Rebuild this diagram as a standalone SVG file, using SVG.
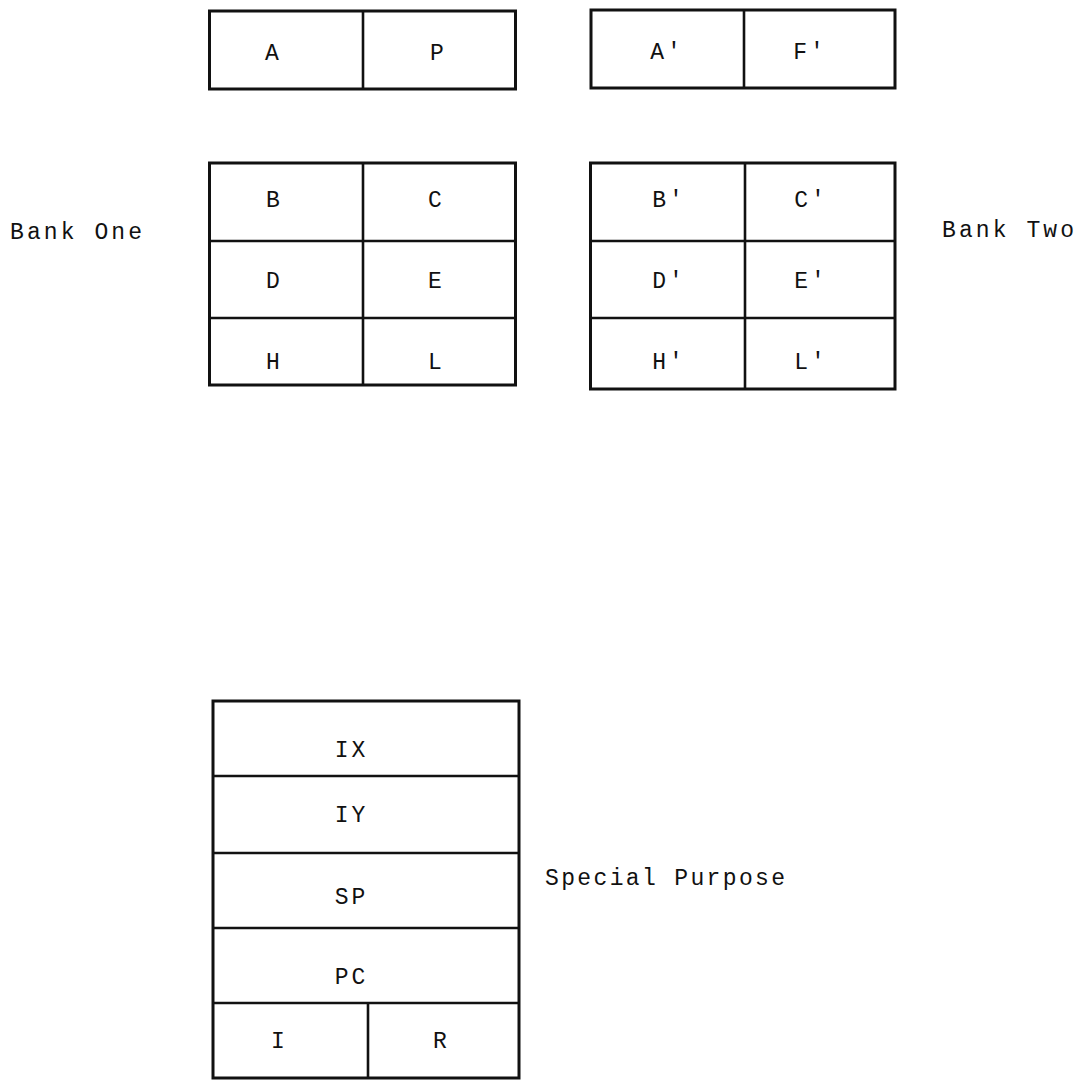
<svg xmlns="http://www.w3.org/2000/svg" width="1083" height="1081" viewBox="0 0 1083 1081">
<style>
  .box { fill: #fff; stroke: #111; stroke-width: 3; }
  .div { stroke: #111; stroke-width: 2.6; fill: none; }
  .t { font-family: "Liberation Mono", "Courier New", monospace; font-size: 23px; fill: #111; text-anchor: middle; letter-spacing: 3px; }
  .lbl { font-family: "Liberation Mono", "Courier New", monospace; font-size: 23px; fill: #111; }
</style>
<rect width="1083" height="1081" fill="#fff"/>

<g id="bank-one-AP">
  <rect class="box" x="209.5" y="11" width="306" height="78"/>
  <line class="div" x1="363" y1="11" x2="363" y2="89"/>
  <text class="t" x="273.5" y="60">A</text>
  <text class="t" x="438.5" y="60">P</text>
</g>

<g id="bank-two-AF">
  <rect class="box" x="591" y="10" width="304" height="78"/>
  <line class="div" x1="744" y1="10" x2="744" y2="88"/>
  <text class="t" x="667" y="59">A'</text>
  <text class="t" x="810" y="59">F'</text>
</g>

<g id="bank-one-regs">
  <rect class="box" x="209.5" y="163" width="306" height="222"/>
  <line class="div" x1="363" y1="163" x2="363" y2="385"/>
  <line class="div" x1="209.5" y1="241" x2="515.5" y2="241"/>
  <line class="div" x1="209.5" y1="318" x2="515.5" y2="318"/>
  <text class="t" x="274.5" y="207">B</text>
  <text class="t" x="436.5" y="207">C</text>
  <text class="t" x="274.5" y="288">D</text>
  <text class="t" x="436.5" y="288">E</text>
  <text class="t" x="274.5" y="369">H</text>
  <text class="t" x="436.5" y="369">L</text>
</g>

<g id="bank-two-regs">
  <rect class="box" x="590.5" y="163" width="304.5" height="226"/>
  <line class="div" x1="745" y1="163" x2="745" y2="389"/>
  <line class="div" x1="590.5" y1="241" x2="895" y2="241"/>
  <line class="div" x1="590.5" y1="318" x2="895" y2="318"/>
  <text class="t" x="669" y="207">B'</text>
  <text class="t" x="811" y="207">C'</text>
  <text class="t" x="669" y="288">D'</text>
  <text class="t" x="811" y="288">E'</text>
  <text class="t" x="669" y="369">H'</text>
  <text class="t" x="811" y="369">L'</text>
</g>

<g id="special-purpose">
  <rect class="box" x="213" y="701" width="306" height="377"/>
  <line class="div" x1="213" y1="776" x2="519" y2="776"/>
  <line class="div" x1="213" y1="853" x2="519" y2="853"/>
  <line class="div" x1="213" y1="928" x2="519" y2="928"/>
  <line class="div" x1="213" y1="1003" x2="519" y2="1003"/>
  <line class="div" x1="368" y1="1003" x2="368" y2="1078"/>
  <text class="t" x="351.5" y="757">IX</text>
  <text class="t" x="351.5" y="822">IY</text>
  <text class="t" x="351.5" y="904">SP</text>
  <text class="t" x="351.5" y="984">PC</text>
  <text class="t" x="279.5" y="1048">I</text>
  <text class="t" x="441.5" y="1048">R</text>
</g>

<g id="labels">
  <text class="lbl" x="10" y="239" textLength="132" lengthAdjust="spacing">Bank One</text>
  <text class="lbl" x="942" y="237" textLength="132" lengthAdjust="spacing">Bank Two</text>
  <text class="lbl" x="545" y="885" textLength="240" lengthAdjust="spacing">Special Purpose</text>
</g>

<g id="connectors"></g>
</svg>
